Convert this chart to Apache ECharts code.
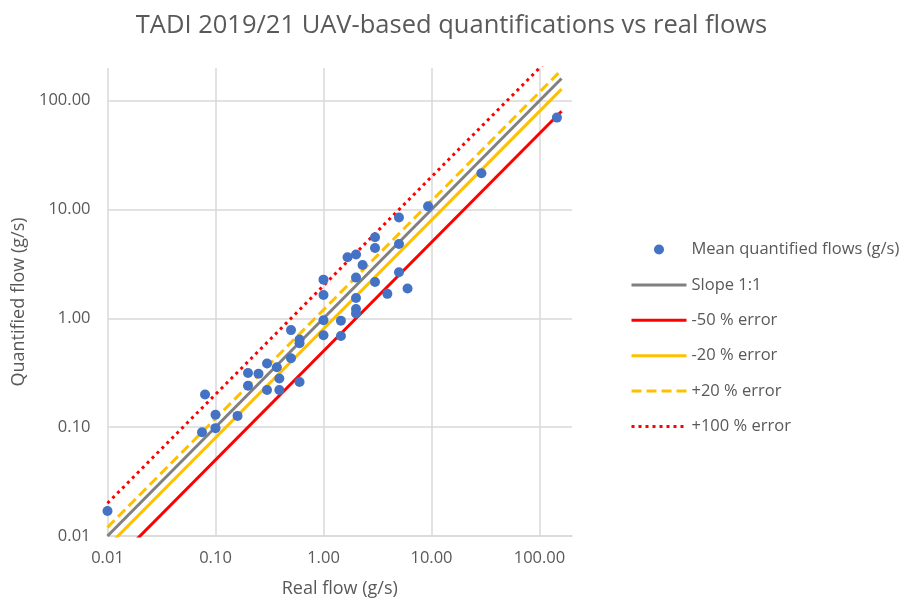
<!DOCTYPE html>
<html>
<head>
<meta charset="utf-8">
<script src="https://cdn.jsdelivr.net/npm/echarts@6/dist/echarts.min.js"></script>
<style>
  html, body { margin: 0; padding: 0; background: #fff; }
  #chart { width: 903px; height: 600px; }
</style>
</head>
<body>
<div id="chart"></div>
<script>
// measured points: real flow (g/s) vs mean quantified flow (g/s)
const realFlow = [0.01, 0.08, 0.075, 0.1, 0.1, 0.16, 0.2, 0.2, 0.25, 0.3, 0.3, 0.37, 0.39, 0.39,
  0.5, 0.5, 0.6, 0.6, 0.6, 1, 1, 1, 1, 1.45, 1.45, 1.67, 2, 2.3, 2, 2, 2, 2,
  3, 3, 3, 5, 5, 5, 3.9, 6, 9.3, 29, 145];
const quantFlow = [0.017, 0.2, 0.09, 0.13, 0.098, 0.127, 0.315, 0.24, 0.31, 0.385, 0.22, 0.355, 0.28, 0.22,
  0.78, 0.43, 0.64, 0.59, 0.26, 0.96, 0.7, 2.27, 1.64, 0.95, 0.69, 3.65, 3.86, 3.1, 2.37, 1.54, 1.22, 1.11,
  5.56, 4.44, 2.16, 8.45, 4.83, 2.65, 1.68, 1.88, 10.7, 21.6, 70];

// reference lines (two end points each)
const lineX = [0.01, 160];
const slope11 = [0.01, 160];
const minus50 = [0.005, 80];
const minus20 = [0.008, 128];
const plus20 = [0.012, 192];
const plus100 = [0.02, 320];

const pair = (xs, ys) => xs.map((x, i) => [x, ys[i]]);

const textColor = '#595959';
const gridColor = '#d9d9d9';
const fontFamily = '"Open Sans", sans-serif';

const labelStyle = (margin) => ({
  color: textColor,
  fontSize: 16.5,
  fontFamily,
  margin,
  showMaxLabel: false,
  formatter: v => v.toFixed(2)
});

const logAxis = (extra) => Object.assign({
  type: 'log',
  logBase: 10,
  min: 0.01,
  max: 200,
  nameLocation: 'middle',
  nameTextStyle: { color: textColor, fontSize: 18, fontFamily },
  axisTick: { show: false },
  splitLine: {
    show: true,
    showMaxLine: false,
    lineStyle: { color: gridColor, width: 1.5 }
  }
}, extra);

const lineSeries = (name, ys, color, type) => ({
  name,
  type: 'line',
  data: pair(lineX, ys),
  symbol: 'none',
  clip: true,
  z: 2,
  lineStyle: { color, width: 3, type },
  itemStyle: { color }
});

const lineLegend = (name) => ({ name, itemStyle: { opacity: 0 }, lineStyle: { width: 3 } });

const chart = echarts.init(document.getElementById('chart'));
chart.setOption({
  backgroundColor: '#fff',
  animation: false,
  title: {
    text: 'TADI 2019/21 UAV-based quantifications vs real flows',
    left: 'center',
    top: 8,
    textStyle: { color: textColor, fontSize: 25.5, fontWeight: 'normal', fontFamily }
  },
  grid: { left: 107.5, right: 331, top: 68, bottom: 64, outerBoundsMode: 'none' },
  legend: {
    orient: 'vertical',
    left: 625,
    top: 236,
    itemWidth: 55,
    itemHeight: 10,
    itemGap: 18.4,
    textStyle: { color: textColor, fontSize: 16.5, fontFamily },
    data: [
      'Mean quantified flows (g/s)',
      lineLegend('Slope 1:1'),
      lineLegend('-50 % error'),
      lineLegend('-20 % error'),
      lineLegend('+20 % error'),
      lineLegend('+100 % error')
    ]
  },
  xAxis: logAxis({
    name: 'Real flow (g/s)',
    nameGap: 44,
    axisLine: { show: true, lineStyle: { color: gridColor, width: 1.5 } },
    axisLabel: labelStyle(14)
  }),
  yAxis: logAxis({
    name: 'Quantified flow (g/s)',
    nameGap: 73,
    axisLine: { show: false },
    axisLabel: labelStyle(17)
  }),
  series: [
    {
      name: 'Mean quantified flows (g/s)',
      type: 'scatter',
      data: pair(realFlow, quantFlow),
      symbol: 'circle',
      symbolSize: 10,
      z: 5,
      itemStyle: { color: '#4472C4', opacity: 1 }
    },
    lineSeries('Slope 1:1', slope11, '#808080', 'solid'),
    lineSeries('-50 % error', minus50, '#FF0000', 'solid'),
    lineSeries('-20 % error', minus20, '#FFC000', 'solid'),
    lineSeries('+20 % error', plus20, '#FFC000', [10, 5]),
    lineSeries('+100 % error', plus100, '#FF0000', [3, 4])
  ]
});
</script>
</body>
</html>
